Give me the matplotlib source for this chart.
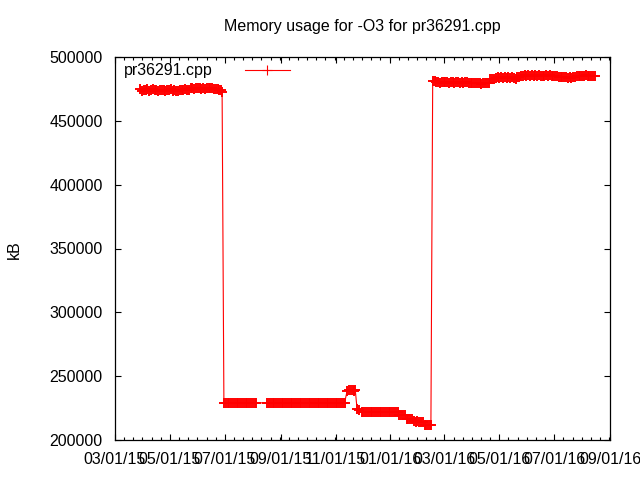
import matplotlib
matplotlib.use('Agg')
import matplotlib.pyplot as plt
import matplotlib.dates as mdates
from matplotlib.ticker import AutoMinorLocator, MultipleLocator
import numpy as np

plt.rcParams['font.family'] = ['Liberation Sans', 'DejaVu Sans']

# days counted from 2015-03-01, memory in kB
start = np.datetime64('2015-03-01')

days_before = [28, 30, 32, 34, 36, 38, 40, 42, 44, 46, 48, 50, 52, 54, 56,
               58, 60, 62, 64, 66, 68, 70, 72, 74, 76, 78, 80, 82, 84, 86,
               88, 90, 92, 94, 96, 98, 100, 102, 104, 106, 108, 110, 112,
               114, 116, 118, 119]
kb_before = [475000, 473600, 474300, 473900, 474600, 473500, 474100, 474700,
             473800, 474300, 473500, 474500, 473900, 474200, 473600, 474400,
             473800, 474600, 473700, 474200, 473300, 473000, 474000, 474400,
             473800, 474600, 474100, 474500, 475600, 476000, 475300, 475900,
             475400, 476100, 475200, 475700, 475300, 475800, 475500, 476000,
             475400, 475100, 474600, 475200, 474400, 474000, 472800]

days_low = [121, 123, 125, 127, 129, 131, 133, 135, 137, 139, 141, 143, 145,
            147, 149, 151, 153, 155, 157,
            169, 171, 173, 175, 177, 179, 181, 183, 185, 187, 189, 191, 193,
            195, 197, 199, 201, 203, 205, 207, 209, 211, 213, 215, 217, 219,
            221, 223, 225, 227, 229, 231, 233, 235, 237, 239, 241, 243, 245,
            247, 249, 251, 253, 255,
            258, 260, 262, 264, 266, 267,
            269, 271,
            274, 276, 278, 280, 282, 284, 286, 288, 290, 292, 294, 296, 298,
            300, 302, 304, 306, 308, 310, 312, 314,
            316, 318, 320, 322,
            324, 326, 328, 330,
            332, 334, 336, 338, 340, 342,
            344, 346, 348, 350, 351]
kb_low = [229200, 228900, 229100, 228800, 229000, 229200, 228900, 229100,
          229000, 228800, 229100, 229000, 228900, 229200, 228800, 229100,
          229000, 228900, 229100,
          229100, 228900, 229200, 228800, 229000, 229100, 228900, 229200,
          229000, 228800, 229100, 228900, 229000, 229200, 228900, 229100,
          228800, 229000, 229100, 228900, 229200, 229000, 228800, 229100,
          228900, 229000, 229200, 228900, 229100, 229000, 228800, 229200,
          228900, 229100, 229000, 228800, 229100, 228900, 229200, 229000,
          228900, 229100, 229000, 228900,
          238600, 239200, 238900, 239100, 238700, 239000,
          224000, 223500,
          222100, 221800, 222000, 221700, 222200, 221900, 222000, 221800,
          222100, 221900, 222000, 221700, 222100, 221900, 222200, 221800,
          222000, 221900, 222100, 221800, 221900,
          219800, 219500, 219700, 219600,
          216800, 216300, 216600, 216400,
          214600, 214200, 214500, 214300, 214400, 214200,
          211900, 211600, 211800, 211700, 211800]

days_after = [353, 355, 357, 359, 361, 363, 365, 367, 369, 371, 373, 375,
              377, 379, 381, 383, 385, 387, 389, 391, 393, 395, 397, 399,
              401, 403, 405, 407, 409, 411, 413, 415,
              417, 419, 421, 423, 425, 427, 429, 431, 433, 435, 437, 439,
              441, 443, 445, 447, 449,
              451, 453, 455, 457, 459, 461, 463, 465, 467, 469, 471, 473,
              475, 477, 479, 481, 483, 485, 487, 489, 491, 493,
              495, 497, 499, 501, 503, 505, 507, 509, 511,
              513, 515, 517, 519, 521, 523, 525, 527, 529, 531, 533]
kb_after = [481500, 481000, 480300, 480700, 479900, 480400, 480800, 480100,
            480500, 479800, 480300, 480700, 479600, 480200, 480600, 479900,
            480300, 479700, 480100, 480500, 479800, 479500, 479900, 479300,
            479800, 479400, 479700, 479200, 479600, 479400, 479800, 479500,
            482400, 483000, 482600, 483500, 484200, 483700, 484400, 483900,
            484100, 483600, 484300, 483800, 484200, 483900, 482900, 484400,
            484000,
            484800, 485200, 485600, 485100, 485700, 485300, 485900, 485400,
            485800, 485200, 485600, 485000, 485500, 485100, 485700, 485300,
            485600, 485100, 485400, 485000, 485300, 484700,
            484200, 484700, 484000, 484500, 483600, 484300, 483800, 484400,
            484100,
            485000, 485400, 484800, 485500, 485100, 485600, 485200, 485500,
            484900, 485400, 485200]

days = days_before + days_low + days_after
kb = kb_before + kb_low + kb_after
dates = start + np.array(days).astype('timedelta64[D]')

fig = plt.figure(figsize=(6.4, 4.8), dpi=100)
ax = fig.add_axes([115 / 640, 40 / 480, 495 / 640, 383 / 480])

ax.plot(dates, kb, '+-', color='red', lw=0.8, ms=6.5, mew=1.4,
        label='pr36291.cpp')

ax.set_xlim(np.datetime64('2015-03-01'), np.datetime64('2016-09-01'))
ax.set_ylim(200000, 500000)
ax.xaxis.set_major_locator(mdates.MonthLocator(bymonth=[1, 3, 5, 7, 9, 11]))
ax.xaxis.set_major_formatter(mdates.DateFormatter('%m/%d/%y'))
ax.xaxis.set_minor_locator(AutoMinorLocator(6))
ax.yaxis.set_major_locator(MultipleLocator(50000))
ax.ticklabel_format(axis='y', style='plain', useOffset=False)

ax.tick_params(which='both', direction='in', top=True, right=True,
               labelsize=11.5, width=0.8)
ax.tick_params(which='major', length=4.5)
ax.tick_params(which='minor', length=2.2)
ax.tick_params(axis='x', pad=9)
ax.tick_params(axis='y', pad=9)
for s in ax.spines.values():
    s.set_linewidth(0.9)

fig.text(362 / 640, 1 - 27 / 480, 'Memory usage for -O3 for pr36291.cpp',
         ha='center', va='center', fontsize=11.5)
fig.text(14 / 640, 1 - 250 / 480, 'kB', rotation=90, ha='center',
         va='center', fontsize=11.5)

leg = ax.legend(loc='upper left', bbox_to_anchor=(0.006, 1.0),
                frameon=False, markerfirst=False, numpoints=1,
                handlelength=2.8, handletextpad=2.0, borderaxespad=0.1,
                borderpad=0.3, fontsize=11.5)
leg.get_lines()[0].set_markeredgewidth(0.8)

fig.savefig('out.png', dpi=100)
